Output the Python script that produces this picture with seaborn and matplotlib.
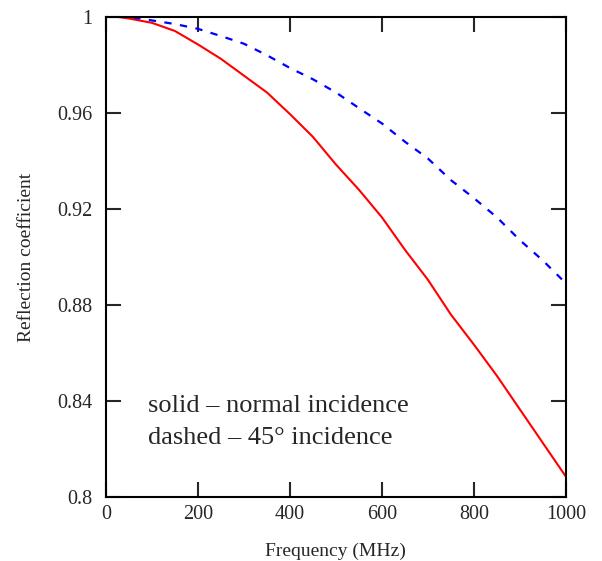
import numpy as np
import pandas as pd
import matplotlib
matplotlib.use("Agg")
import matplotlib.pyplot as plt
import seaborn as sns

# frequency in MHz
freq = [25, 50, 100, 150, 200, 250, 300, 350, 400, 450, 500,
        550, 600, 650, 700, 750, 800, 850, 900, 950, 1000]
# reflection coefficient, normal incidence (solid red)
refl_normal = [1.0, 0.9993, 0.9975, 0.9941, 0.9885, 0.9825, 0.9755, 0.9685, 0.9595, 0.950, 0.9385,
               0.928, 0.9165, 0.903, 0.8905, 0.876, 0.8635, 0.8505, 0.8365, 0.8225, 0.8085]
# reflection coefficient, 45 deg incidence (dashed blue)
refl_45 = [1.0, 1.0, 0.9985, 0.997, 0.995, 0.992, 0.9888, 0.984, 0.9787, 0.974, 0.9685,
           0.962, 0.9556, 0.948, 0.941, 0.932, 0.9245, 0.9165, 0.907, 0.8985, 0.889]

xticks = [0, 200, 400, 600, 800, 1000]
yticks = [0.8, 0.84, 0.88, 0.92, 0.96, 1.0]
ytick_labels = ["0.8", "0.84", "0.88", "0.92", "0.96", "1"]

df = pd.DataFrame({"freq": freq, "normal": refl_normal, "oblique": refl_45})

sns.set_style("white")
plt.rcParams["font.family"] = ["Liberation Serif", "DejaVu Serif"]

fig = plt.figure(figsize=(6.02, 5.61), dpi=100)
ax = fig.add_axes([0.176, 0.114, 0.764, 0.856])

sns.lineplot(data=df, x="freq", y="normal", ax=ax, color="#ff0000", lw=1.5)
sns.lineplot(data=df, x="freq", y="oblique", ax=ax, color="#0000ff", lw=1.6,
             linestyle=(0, (3.3, 3.8)))

ax.set_xlim(0, 1000)
ax.set_ylim(0.8, 1.0)
ax.set_xticks(xticks)
ax.set_yticks(yticks)
ax.set_yticklabels(ytick_labels)
ax.tick_params(direction="in", length=11, width=1.5, labelsize=14.5,
               top=True, right=True, bottom=True, left=True)
ax.tick_params(axis="x", pad=6)
ax.tick_params(axis="y", pad=9.5)
for s in ax.spines.values():
    s.set_linewidth(1.5)
    s.set_color("black")

ax.set_xlabel("Frequency (MHz)", fontsize=14, labelpad=13)
ax.set_ylabel("Reflection coefficient", fontsize=14, labelpad=16)

ax.text(91, 0.838, "solid \u2013 normal incidence", fontsize=19, va="center")
ax.text(91, 0.8245, "dashed \u2013 45\u00b0 incidence", fontsize=19, va="center")

fig.savefig("out.png", dpi=100)
